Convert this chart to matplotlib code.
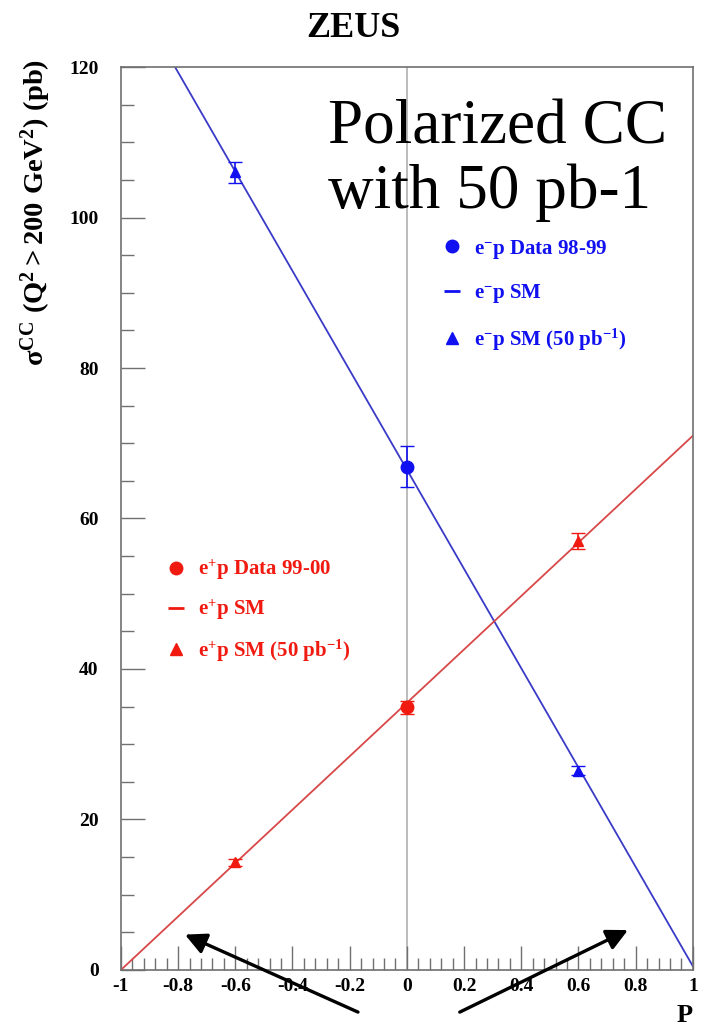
import numpy as np
import matplotlib.pyplot as plt
from matplotlib.lines import Line2D

plt.rcParams['font.family'] = ['Liberation Serif', 'DejaVu Serif']
plt.rcParams['mathtext.fontset'] = 'custom'
plt.rcParams['mathtext.rm'] = 'Liberation Serif:bold'
plt.rcParams['mathtext.it'] = 'Liberation Serif:bold'
plt.rcParams['mathtext.bf'] = 'Liberation Serif:bold'
plt.rcParams['mathtext.default'] = 'rm'

# Standard Model lines (cross section vs polarisation)
sm_P = [-1.0, 1.0]
em_sm = [132.5, 0.5]
ep_sm = [0.0, 71.0]

# Measured data at P = 0
data_P = [0.0]
em_data = [66.9]
em_data_err = [2.75]
ep_data = [34.9]
ep_data_err = [0.9]

# Expected points with 50 pb-1
proj_P = [-0.6, 0.6]
em_proj = [106.0, 26.5]
em_proj_err = [1.4, 0.6]
ep_proj = [14.3, 57.0]
ep_proj_err = [0.5, 1.1]

blue_line = '#3a3ac8'
blue = '#1010f0'
red_line = '#d84848'
red = '#f01a10'
frame = '#707070'

fig = plt.figure(figsize=(7.07, 10.25), dpi=100)
ax = fig.add_axes([0.171, 0.0537, 0.809, 0.8809])

ax.axvline(0, color='#b0b0b0', lw=1.2, zorder=0)
ax.plot(sm_P, em_sm, color=blue_line, lw=1.3)
ax.plot(sm_P, ep_sm, color=red_line, lw=1.3)

ax.errorbar(data_P, em_data, yerr=em_data_err, fmt='o', color=blue, ms=9, capsize=5, elinewidth=1.2)
ax.errorbar(data_P, ep_data, yerr=ep_data_err, fmt='o', color=red, ms=9, capsize=5, elinewidth=1.2)
ax.errorbar(proj_P, em_proj, yerr=em_proj_err, fmt='^', color=blue, ms=7, capsize=5, elinewidth=1.2)
ax.errorbar(proj_P, ep_proj, yerr=ep_proj_err, fmt='^', color=red, ms=7, capsize=5, elinewidth=1.2)

ax.set_xlim(-1, 1)
ax.set_ylim(0, 120)
ax.set_xticks(np.arange(-1, 1.01, 0.2))
ax.set_xticks(np.arange(-1, 1.01, 0.04), minor=True)
ax.set_yticks(np.arange(0, 121, 20))
ax.set_yticks(np.arange(0, 121, 5), minor=True)
ax.set_xticklabels(['-1', '-0.8', '-0.6', '-0.4', '-0.2', '0', '0.2', '0.4', '0.6', '0.8', '1'])
ax.tick_params(which='both', direction='in', colors=frame, labelcolor='black',
               labelsize=14, top=False, right=False)
ax.tick_params(which='major', length=17, width=1)
ax.tick_params(which='minor', length=9, width=1)
ax.tick_params(axis='y', pad=16)
ax.tick_params(axis='x', pad=6)
for lab in ax.get_xticklabels() + ax.get_yticklabels():
    lab.set_fontweight('bold')
for s in ax.spines.values():
    s.set_color(frame)
    s.set_linewidth(1.2)

fig.text(0.5, 0.972, 'ZEUS', ha='center', va='center', fontsize=26, fontweight='bold')
fig.text(0.051, 1 - 59 / 1025, r'$\sigma^{CC}\ (Q^{2} > 200\ GeV^{2})\ (pb)$',
         rotation=90, ha='center', va='top', fontsize=20.5)
fig.text(685 / 707, 1 - 1015 / 1025, 'P', ha='center', va='center', fontsize=19, fontweight='bold')

fig.text(328 / 707, 1 - 143 / 1025, 'Polarized CC', fontsize=45.5, ha='left', va='baseline')
fig.text(328 / 707, 1 - 208 / 1025, 'with 50 pb-1', fontsize=45.5, ha='left', va='baseline')

em_handles = [Line2D([], [], marker='o', ls='none', color=blue, ms=9),
              Line2D([], [], marker='_', ls='none', color=blue, ms=11, mew=2),
              Line2D([], [], marker='^', ls='none', color=blue, ms=8)]
em_labels = [r'e$^{-}$p Data 98-99', r'e$^{-}$p SM', r'e$^{-}$p SM (50 pb$^{-1}$)']
leg1 = ax.legend(em_handles, em_labels, loc='upper left', bbox_to_anchor=(423 / 707, 1 - 219 / 1025),
                 bbox_transform=fig.transFigure, frameon=False, labelcolor=blue,
                 prop={'weight': 'bold', 'size': 15}, labelspacing=1.03, handlelength=1.0,
                 handletextpad=0.56)
ax.add_artist(leg1)

ep_handles = [Line2D([], [], marker='o', ls='none', color=red, ms=9),
              Line2D([], [], marker='_', ls='none', color=red, ms=11, mew=2),
              Line2D([], [], marker='^', ls='none', color=red, ms=8)]
ep_labels = [r'e$^{+}$p Data 99-00', r'e$^{+}$p SM', r'e$^{+}$p SM (50 pb$^{-1}$)']
ax.legend(ep_handles, ep_labels, loc='upper left', bbox_to_anchor=(147 / 707, 1 - 539 / 1025),
          bbox_transform=fig.transFigure, frameon=False, labelcolor=red,
          prop={'weight': 'bold', 'size': 15}, labelspacing=0.74, handlelength=1.0,
          handletextpad=0.56)

arrow = dict(arrowstyle='-|>', color='black', lw=2.4, mutation_scale=32, shrinkA=0, shrinkB=0)
ax.annotate('', xy=(-0.776, 4.7), xytext=(-0.171, -5.6), arrowprops=arrow, annotation_clip=False)
ax.annotate('', xy=(0.773, 5.3), xytext=(0.185, -5.6), arrowprops=arrow, annotation_clip=False)

fig.savefig('out.png', dpi=100)
